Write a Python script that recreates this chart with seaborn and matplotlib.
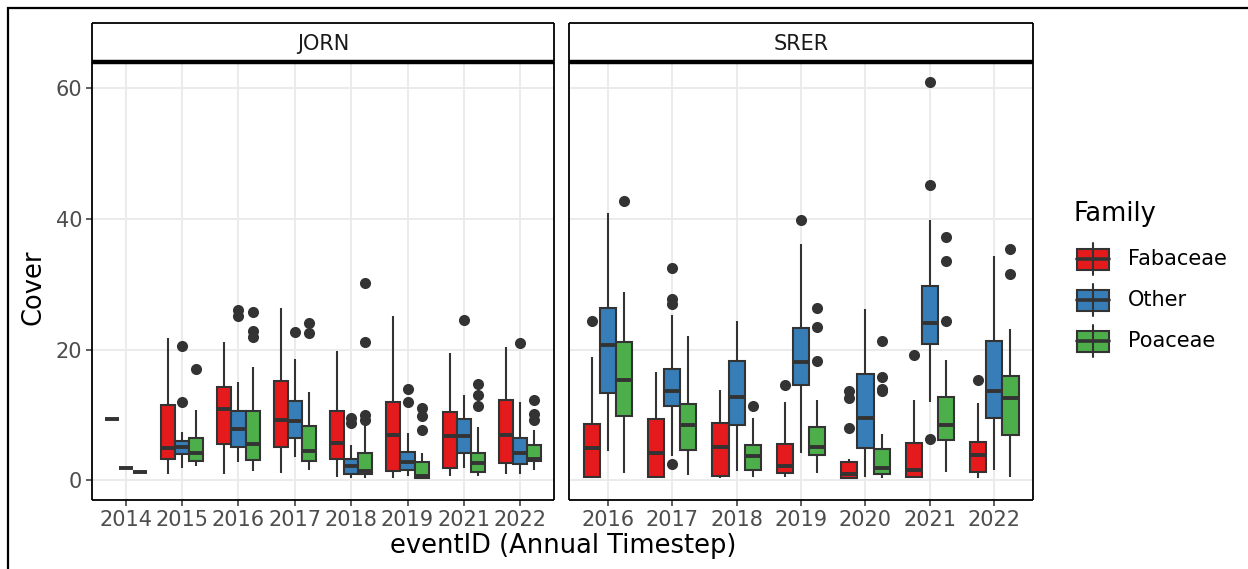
import numpy as np
import pandas as pd
import matplotlib
matplotlib.use("Agg")
import matplotlib.pyplot as plt
import matplotlib.patches as mpatches
import seaborn as sns

# ---------------- data ----------------
FAMILIES = ["Fabaceae", "Other", "Poaceae"]
COLORS = ["#E41A1C", "#377EB8", "#4DAF4A"]

JORN_YEARS = ["2014", "2015", "2016", "2017", "2018", "2019", "2021", "2022"]
SRER_YEARS = ["2016", "2017", "2018", "2019", "2020", "2021", "2022"]

# box statistics per year: (lower whisker, Q1, median, Q3, upper whisker)
JORN_FABACEAE = [(9.4, 9.4, 9.4, 9.4, 9.4), (1.0, 3.3, 4.9, 11.5, 21.7), (1.0, 5.5, 10.9, 14.3, 21.2),
                 (1.1, 5.0, 9.2, 15.2, 26.4), (0.4, 3.3, 5.7, 10.6, 19.8), (0.3, 1.4, 6.9, 11.9, 25.2),
                 (0.6, 1.8, 6.7, 10.5, 19.5), (0.9, 2.6, 6.9, 12.2, 20.4)]
JORN_FABACEAE_OUT = [[], [], [], [], [], [], [], []]

JORN_OTHER = [(1.8, 1.8, 1.8, 1.8, 1.8), (1.9, 4.0, 5.1, 6.0, 7.3), (2.8, 5.1, 7.8, 10.6, 15.1),
              (3.5, 6.4, 9.1, 12.1, 18.6), (0.3, 0.9, 2.1, 3.3, 5.4), (0.6, 1.6, 2.7, 4.3, 7.2),
              (1.9, 4.1, 6.7, 9.4, 13.0), (0.9, 2.5, 4.2, 6.4, 11.9)]
JORN_OTHER_OUT = [[], [11.9, 20.6], [25.2, 26.1], [22.7], [8.8, 9.5], [11.9, 14.0], [24.5], [21.0]]

JORN_POACEAE = [(1.3, 1.3, 1.3, 1.3, 1.3), (2.2, 3.0, 4.2, 6.5, 10.7), (1.4, 3.1, 5.6, 10.6, 17.4),
                (1.6, 2.9, 4.5, 8.3, 13.5), (0.3, 1.0, 1.4, 4.1, 8.4), (0.2, 0.3, 0.7, 2.8, 4.2),
                (0.6, 1.3, 2.6, 4.1, 8.2), (1.6, 3.0, 3.3, 5.4, 7.7)]
JORN_POACEAE_OUT = [[], [17.0], [21.9, 22.9, 25.7], [22.5, 24.0], [9.2, 9.9, 21.1, 30.2],
                    [7.6, 9.8, 11.0], [11.4, 13.0, 14.7], [9.2, 10.2, 12.3]]

SRER_FABACEAE = [(0.3, 0.4, 4.9, 8.6, 18.8), (0.3, 0.4, 4.1, 9.4, 16.5), (0.3, 0.6, 5.0, 8.8, 13.8),
                 (0.4, 1.1, 2.2, 5.6, 12.0), (0.3, 0.3, 0.9, 2.7, 3.3), (0.3, 0.5, 1.6, 5.7, 12.2),
                 (0.3, 1.2, 3.8, 5.9, 11.8)]
SRER_FABACEAE_OUT = [[24.4], [], [], [14.6], [8.0, 12.5, 13.6], [19.2], [15.4]]

SRER_OTHER = [(4.5, 13.4, 20.7, 26.4, 40.9), (3.7, 11.3, 13.7, 17.0, 25.3), (1.4, 8.5, 12.8, 18.3, 24.4),
              (4.2, 14.6, 18.1, 23.3, 36.1), (0.4, 4.9, 9.5, 16.3, 26.2), (12.0, 20.9, 24.0, 29.8, 39.9),
              (1.6, 9.5, 13.7, 21.3, 34.3)]
SRER_OTHER_OUT = [[], [2.5, 26.9, 27.7, 32.5], [], [39.9], [], [6.3, 45.2, 61.0], []]

SRER_POACEAE = [(1.1, 9.8, 15.3, 21.1, 28.8), (0.8, 4.6, 8.5, 11.7, 22.0), (0.5, 1.5, 3.7, 5.3, 9.5),
                (1.1, 3.8, 5.1, 8.2, 12.2), (0.3, 1.0, 1.9, 4.8, 7.1), (1.3, 6.1, 8.5, 12.7, 18.4),
                (0.5, 6.9, 12.6, 16.0, 23.1)]
SRER_POACEAE_OUT = [[42.7], [], [11.4], [18.2, 23.4, 26.3], [13.6, 14.0, 15.8, 21.3],
                    [24.4, 33.5, 37.3], [31.5, 35.4]]

Y_TICKS = [0, 20, 40, 60]


def expand(stats, outliers):
    """Rebuild a sample whose box-plot statistics equal the read values."""
    lo, q1, med, q3, hi = stats
    low_out = [v for v in outliers if v < q1]
    high_out = [v for v in outliers if v > q3]
    c = max(len(low_out), len(high_out)) + 1
    r = c + 2
    lower = low_out + [lo] * (c - len(low_out)) + [q1] * r
    upper = [q3] * r + [hi] * (c - len(high_out)) + high_out
    return lower + [med] + upper


def build(site, years, stats_list, out_list):
    rows = []
    for fam, stats, outs in zip(FAMILIES, stats_list, out_list):
        for yr, st, ou in zip(years, stats, outs):
            for v in expand(st, ou):
                rows.append((site, yr, fam, v))
    return rows


rows = build("JORN", JORN_YEARS, [JORN_FABACEAE, JORN_OTHER, JORN_POACEAE],
             [JORN_FABACEAE_OUT, JORN_OTHER_OUT, JORN_POACEAE_OUT])
rows += build("SRER", SRER_YEARS, [SRER_FABACEAE, SRER_OTHER, SRER_POACEAE],
              [SRER_FABACEAE_OUT, SRER_OTHER_OUT, SRER_POACEAE_OUT])
df = pd.DataFrame(rows, columns=["site", "eventID", "Family", "Cover"])

# ---------------- figure ----------------
sns.set_style("white")
plt.rcParams["font.family"] = ["DejaVu Sans"]

W, H = 1248, 569
fig = plt.figure(figsize=(W / 100, H / 100), dpi=100)
fig.patch.set_facecolor("white")

DARK = "#333333"
TICKC = "#4D4D4D"
GRID = "#EBEBEB"


def fx(px):
    return px / W


def fy(py):
    return 1 - py / H


panels = [("JORN", JORN_YEARS, 92, 554), ("SRER", SRER_YEARS, 569, 1033)]
top, bottom, strip_top = 62, 500, 23
axes = []
for i, (site, years, x0, x1) in enumerate(panels):
    ax = fig.add_axes([fx(x0), fy(bottom), fx(x1 - x0), (bottom - top) / H])
    axes.append(ax)
    sub = df[df.site == site]
    sns.boxplot(data=sub, x="eventID", y="Cover", hue="Family", order=years,
                hue_order=FAMILIES, palette=COLORS, saturation=1, width=0.75, gap=0,
                linecolor=DARK, linewidth=1.5, whis=1.5, ax=ax, legend=False,
                showcaps=False,
                medianprops=dict(color=DARK, linewidth=2.8),
                flierprops=dict(marker="o", markerfacecolor=DARK, markeredgecolor=DARK,
                                markersize=8, markeredgewidth=0))
    ax.set_xlim(-0.6, len(years) - 0.4)
    ax.set_ylim(-3.05, 64.05)
    ax.set_yticks(Y_TICKS)
    ax.set_axisbelow(True)
    ax.grid(True, color=GRID, linewidth=1.4)
    for sp in ax.spines.values():
        sp.set_visible(True)
        sp.set_color("black")
        sp.set_linewidth(1.3)
        sp.set_capstyle("butt")
    ax.tick_params(axis="both", which="major", length=4, width=1.1, color=DARK,
                   labelcolor=TICKC, labelsize=15, pad=3, bottom=True, left=True)
    ax.set_xlabel("")
    ax.set_ylabel("")
    if i == 1:
        ax.tick_params(axis="y", left=False, labelleft=False)

    # facet strip
    sax = fig.add_axes([fx(x0), fy(top), fx(x1 - x0), (top - strip_top) / H])
    sax.set_xticks([])
    sax.set_yticks([])
    sax.set_facecolor("white")
    for sp in sax.spines.values():
        sp.set_color("black")
        sp.set_linewidth(1.3)
        sp.set_capstyle("butt")
    sax.spines["bottom"].set_linewidth(3.2)
    sax.text(0.5, 0.47, site, ha="center", va="center", fontsize=15,
             color="#1A1A1A", transform=sax.transAxes)

fig.text(fx(563), fy(546), "eventID (Annual Timestep)", ha="center", va="center",
         fontsize=18.5, color="black")
fig.text(fx(33), fy(287), "Cover", ha="center", va="center", rotation=90,
         fontsize=18.5, color="black")

# ---------------- legend ----------------
lax = fig.add_axes([0, 0, 1, 1])
lax.set_xlim(0, W)
lax.set_ylim(H, 0)
lax.axis("off")
lax.text(1074, 214, "Family", ha="left", va="center", fontsize=18.5, color="black")
for k, (fam, col) in enumerate(zip(FAMILIES, COLORS)):
    cy = 259 + k * 41
    lax.plot([1093, 1093], [cy - 16, cy + 16], color=DARK, lw=1.5)
    lax.add_patch(mpatches.Rectangle((1077, cy - 10.5), 32, 21, facecolor=col,
                                     edgecolor=DARK, lw=1.5))
    lax.plot([1077, 1109], [cy, cy], color=DARK, lw=2.6)
    lax.text(1128, cy, fam, ha="left", va="center", fontsize=15, color="black")

# outer frame of the original image
fig.patches.append(mpatches.Rectangle((fx(8), -0.5), 2, fy(8) + 0.5, transform=fig.transFigure,
                                      fill=False, edgecolor="black", lw=1.6))

fig.savefig("out.png", dpi=100, facecolor="white")
